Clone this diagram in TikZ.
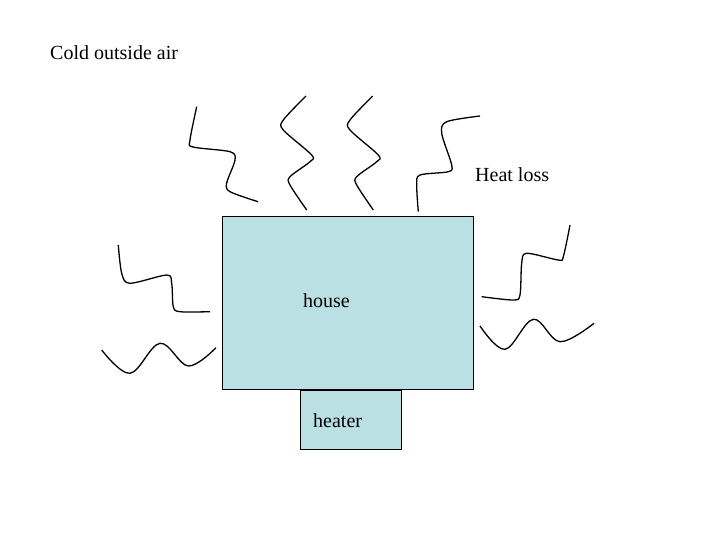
\documentclass[tikz,border=0pt]{standalone}
\usepackage{fontspec}
\setmainfont{Liberation Serif}
\begin{document}
\begin{tikzpicture}[x=1pt,y=-1pt,
  wave/.style={line width=1.3pt,black},
  lbl/.style={anchor=base west,inner sep=0pt,font=\fontsize{20}{24}\selectfont},
  box/.style={draw=black,fill=cyan!30!white!85!gray,line width=0.8pt}]
\useasboundingbox (0,0) rectangle (720,540);
\definecolor{housec}{RGB}{187,224,227}
\node[lbl] (cold) at (50,60) {Cold outside air};
\node[lbl] (loss) at (475,182) {Heat loss};
\draw[box,fill=housec] (222.7,216.7) rectangle (473.3,389.3);
\node[lbl] (house) at (303,307) {house};
\draw[box,fill=housec] (300,390) rectangle (401,449);
\node[lbl] (heater) at (313,427) {heater};
\draw[wave] plot[smooth,tension=0.5] coordinates {(196.7,106.7)(190,140)(193,147)(230,151.7)(235,160)(226.7,183)(230,191.7)(258,201.7)};
\draw[wave] plot[smooth,tension=0.5] coordinates {(306,96)(283.3,120)(283.3,130)(311.7,155)(310,161.7)(290,176.7)(290,185)(306.7,210)};
\draw[wave] plot[smooth,tension=0.5] coordinates {(372.7,96)(350,120)(350,130)(378.3,155)(376.7,161.7)(356.7,176.7)(356.7,185)(373.3,210)};
\draw[wave] plot[smooth,tension=0.5] coordinates {(480,116)(446.7,121.7)(441.7,133.3)(451.7,165)(448.3,171.7)(420,175)(416.7,185)(418.3,211.7)};
\draw[wave] plot[smooth,tension=0.5] coordinates {(118.3,245)(121.7,273.3)(130,283.3)(166.7,275)(171.7,283.3)(173.3,306.7)(180,311.7)(210,311.7)};
\draw[wave] plot[smooth,tension=0.6] coordinates {(101.7,350)(130,373.3)(160,343.3)(188.3,366)(216,347.7)};
\draw[wave] plot[smooth,tension=0.5] coordinates {(570,225)(563.3,256.7)(558.3,260)(526.7,253.3)(521.7,263.3)(520,295)(513.3,300)(481.7,296.7)};
\draw[wave] plot[smooth,tension=0.6] coordinates {(480,326)(505,349.3)(533.3,319.3)(560,341.7)(594,323.3)};
\end{tikzpicture}
\end{document}
